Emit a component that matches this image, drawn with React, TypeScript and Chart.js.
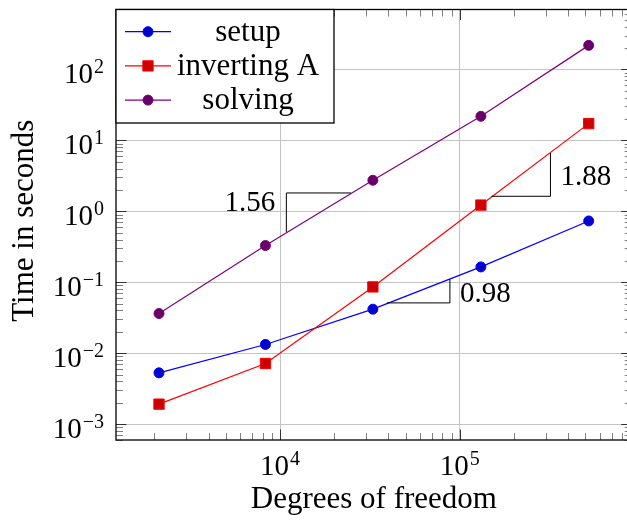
import React, { useEffect, useRef } from "react";
import { Chart, registerables } from "chart.js";

Chart.register(...registerables);

// ---- data ----
const degreesOfFreedom = [2120, 8290, 32830, 131000, 521400];
const setupTimes = [0.00528, 0.01327, 0.0417, 0.1643, 0.73];
const invertingTimes = [0.001913, 0.00716, 0.0859, 1.223, 17.19];
const solvingTimes = [0.0362, 0.3288, 2.733, 21.78, 217.8];
const seriesNames = ["setup", "inverting A", "solving"];

const xAxisTitle = "Degrees of freedom";
const yAxisTitle = "Time in seconds";
const xMajorTicks = [1e4, 1e5];
const yMajorTicks = [1e-3, 1e-2, 1e-1, 1, 10, 100];
const minorMultipliers = [2, 3, 4, 5, 6, 7, 8, 9];
const xLimits = [1222, 904300];
const yLimits = [5.975e-4, 697.7];

// slope triangles
const slopeTexts = ["1.56", "0.98", "1.88"];
const slopeXStart = [10836, 39253, 149800];
const slopeXEnd = [24805, 88060, 319300];
const slopeYLow = [0.511, 0.05111, 1.6265];
const slopeYHigh = [1.811, 0.1102, 6.624];
const slopeCornerAbove = [true, false, false];
const slopeLabelY = [1.374, 0.0723, 3.162];

// ---- styles ----
const lineColors = ["#0000ff", "#ff0000", "#800080"];
const markerFills = ["#0000cc", "#cc0000", "#660066"];
const markerShapes = ["circle", "rect", "circle"];
const FONT = '"Liberation Serif", "Times New Roman", serif';

function drawPow10(ctx: CanvasRenderingContext2D, v: number, x: number, baseline: number, align: string) {
  const exp = Math.round(Math.log10(v));
  const sup = exp < 0 ? "\u2212" + String(-exp) : String(exp);
  ctx.font = `29px ${FONT}`;
  const wm = ctx.measureText("10").width;
  ctx.font = `20px ${FONT}`;
  const ws = ctx.measureText(sup).width;
  const gap = 1;
  const total = wm + gap + ws;
  let start = x;
  if (align === "right") start = x - total;
  else if (align === "center") start = x - total / 2;
  ctx.textAlign = "left";
  ctx.textBaseline = "alphabetic";
  ctx.font = `29px ${FONT}`;
  ctx.fillText("10", start, baseline);
  ctx.font = `20px ${FONT}`;
  ctx.fillText(sup, start + wm + gap, baseline - 10);
}

function drawMarker(ctx: CanvasRenderingContext2D, shape: string, x: number, y: number, fill: string, stroke: string) {
  ctx.save();
  ctx.fillStyle = fill;
  ctx.strokeStyle = stroke;
  ctx.lineWidth = 1;
  ctx.beginPath();
  if (shape === "rect") {
    const s = 5.15;
    ctx.rect(x - s, y - s, 2 * s, 2 * s);
  } else {
    ctx.arc(x, y, 5, 0, Math.PI * 2);
  }
  ctx.fill();
  ctx.stroke();
  ctx.restore();
}

const decorPlugin = {
  id: "decor",
  afterDatasetsDraw(chart: any) {
    const ctx: CanvasRenderingContext2D = chart.ctx;
    const { left, right, top, bottom } = chart.chartArea;
    const xs = chart.scales.x;
    const ys = chart.scales.y;
    ctx.save();

    // slope triangles
    ctx.strokeStyle = "#000";
    ctx.lineWidth = 1;
    for (let i = 0; i < slopeTexts.length; i++) {
      const x1 = xs.getPixelForValue(slopeXStart[i]);
      const x2 = xs.getPixelForValue(slopeXEnd[i]);
      const yl = ys.getPixelForValue(slopeYLow[i]);
      const yh = ys.getPixelForValue(slopeYHigh[i]);
      ctx.beginPath();
      if (slopeCornerAbove[i]) {
        ctx.moveTo(x1, yl);
        ctx.lineTo(x1, yh);
        ctx.lineTo(x2, yh);
      } else {
        ctx.moveTo(x1, yl);
        ctx.lineTo(x2, yl);
        ctx.lineTo(x2, yh);
      }
      ctx.stroke();
      const ly = ys.getPixelForValue(slopeLabelY[i]) + 9.5;
      ctx.fillStyle = "#000";
      ctx.font = `29px ${FONT}`;
      ctx.textBaseline = "alphabetic";
      if (slopeCornerAbove[i]) {
        ctx.textAlign = "right";
        ctx.fillText(slopeTexts[i], x1 - 11, ly);
      } else {
        ctx.textAlign = "left";
        ctx.fillText(slopeTexts[i], x2 + 10, ly);
      }
    }

    // ticks
    const majorLen = 10.5;
    const minorLen = 7;
    const tick = (x1: number, y1: number, x2: number, y2: number, color: string) => {
      ctx.strokeStyle = color;
      ctx.lineWidth = 1;
      ctx.beginPath();
      ctx.moveTo(x1, y1);
      ctx.lineTo(x2, y2);
      ctx.stroke();
    };
    const minorVals = (lims: number[]) => {
      const out: number[] = [];
      const e0 = Math.floor(Math.log10(lims[0]));
      const e1 = Math.ceil(Math.log10(lims[1]));
      for (let e = e0; e <= e1; e++) {
        for (const m of minorMultipliers) {
          const v = m * Math.pow(10, e);
          if (v > lims[0] && v < lims[1]) out.push(v);
        }
      }
      return out;
    };
    for (const v of minorVals(xLimits)) {
      const px = Math.round(xs.getPixelForValue(v)) + 0.5;
      tick(px, bottom, px, bottom - minorLen, "#808080");
      tick(px, top, px, top + minorLen, "#808080");
    }
    for (const v of minorVals(yLimits)) {
      const py = Math.round(ys.getPixelForValue(v)) + 0.5;
      tick(left, py, left + minorLen, py, "#808080");
      tick(right, py, right - minorLen, py, "#808080");
    }
    for (const v of xMajorTicks) {
      const px = Math.round(xs.getPixelForValue(v)) + 0.5;
      tick(px, bottom, px, bottom - majorLen, "#333");
      tick(px, top, px, top + majorLen, "#333");
    }
    for (const v of yMajorTicks) {
      const py = Math.round(ys.getPixelForValue(v)) + 0.5;
      tick(left, py, left + majorLen, py, "#333");
      tick(right, py, right - majorLen, py, "#333");
    }

    // axis box
    ctx.strokeStyle = "#000";
    ctx.lineWidth = 1.3;
    ctx.strokeRect(left, top, right - left, bottom - top);

    // tick labels
    ctx.fillStyle = "#000";
    for (const v of xMajorTicks) {
      drawPow10(ctx, v, xs.getPixelForValue(v), bottom + 35, "center");
    }
    for (const v of yMajorTicks) {
      drawPow10(ctx, v, left - 12, ys.getPixelForValue(v) + 13.5, "right");
    }

    // axis titles
    ctx.font = `31px ${FONT}`;
    ctx.textAlign = "center";
    ctx.textBaseline = "alphabetic";
    ctx.fillText(xAxisTitle, (left + right) / 2, bottom + 68);
    ctx.save();
    ctx.translate(33, (top + bottom) / 2 - 4);
    ctx.rotate(-Math.PI / 2);
    ctx.fillText(yAxisTitle, 0, 0);
    ctx.restore();

    // legend
    const lx = left;
    const lyTop = top;
    const lw = 218;
    const lh = 113.5;
    ctx.fillStyle = "#fff";
    ctx.fillRect(lx, lyTop, lw, lh);
    ctx.strokeStyle = "#000";
    ctx.lineWidth = 1.3;
    ctx.strokeRect(lx, lyTop, lw, lh);
    chart.data.datasets.forEach((ds: any, i: number) => {
      const cy = lyTop + 22.2 + i * 34.2;
      ctx.strokeStyle = ds.borderColor;
      ctx.lineWidth = 1.2;
      ctx.beginPath();
      ctx.moveTo(lx + 9, cy);
      ctx.lineTo(lx + 55, cy);
      ctx.stroke();
      drawMarker(ctx, ds.pointStyle, lx + 32, cy, ds.pointBackgroundColor, ds.pointBorderColor);
      ctx.fillStyle = "#000";
      ctx.font = `31px ${FONT}`;
      ctx.textAlign = "center";
      ctx.textBaseline = "alphabetic";
      ctx.fillText(ds.label, lx + 132, cy + 9);
    });

    ctx.restore();
  },
};

export default function App() {
  const canvasRef = useRef<HTMLCanvasElement | null>(null);

  useEffect(() => {
    const canvas = canvasRef.current;
    if (!canvas) return;
    const seriesValues = [setupTimes, invertingTimes, solvingTimes];
    const datasets = seriesValues.map((vals, i) => ({
      label: seriesNames[i],
      data: degreesOfFreedom.map((x, j) => ({ x, y: vals[j] })),
      borderColor: lineColors[i],
      backgroundColor: markerFills[i],
      borderWidth: 1.2,
      pointStyle: markerShapes[i],
      pointRadius: markerShapes[i] === "rect" ? 7.3 : 5,
      pointBackgroundColor: markerFills[i],
      pointBorderColor: lineColors[i],
      pointBorderWidth: 1,
      tension: 0,
      order: seriesValues.length - i,
    }));

    const chart = new Chart(canvas, {
      type: "line",
      data: { datasets },
      options: {
        responsive: false,
        animation: false,
        devicePixelRatio: 1,
        events: [],
        layout: { padding: { top: 9.5, right: 5.5, left: 0, bottom: 0 } },
        plugins: {
          legend: { display: false },
          tooltip: { enabled: false },
          title: { display: false },
        },
        scales: {
          x: {
            type: "logarithmic",
            min: xLimits[0],
            max: xLimits[1],
            bounds: "data",
            afterBuildTicks: (scale: any) => {
              scale.ticks = xMajorTicks.map((v) => ({ value: v, major: true }));
            },
            afterFit: (scale: any) => {
              scale.height = 80;
            },
            ticks: { display: false, callback: () => "" },
            grid: { color: "#c4c4c4", lineWidth: 1, drawTicks: false },
            border: { display: false },
          },
          y: {
            type: "logarithmic",
            min: yLimits[0],
            max: yLimits[1],
            bounds: "data",
            afterBuildTicks: (scale: any) => {
              scale.ticks = yMajorTicks.map((v) => ({ value: v, major: true }));
            },
            afterFit: (scale: any) => {
              scale.width = 116;
            },
            ticks: { display: false, callback: () => "" },
            grid: { color: "#c4c4c4", lineWidth: 1, drawTicks: false },
            border: { display: false },
          },
        },
      } as any,
      plugins: [decorPlugin],
    });
    return () => chart.destroy();
  }, []);

  return (
    <div
      style={{
        position: "fixed",
        left: 0,
        top: 0,
        width: 627,
        height: 520,
        overflow: "hidden",
        background: "#fff",
      }}
    >
      <canvas ref={canvasRef} width={640} height={520} style={{ display: "block", width: 640, height: 520 }} />
    </div>
  );
}
